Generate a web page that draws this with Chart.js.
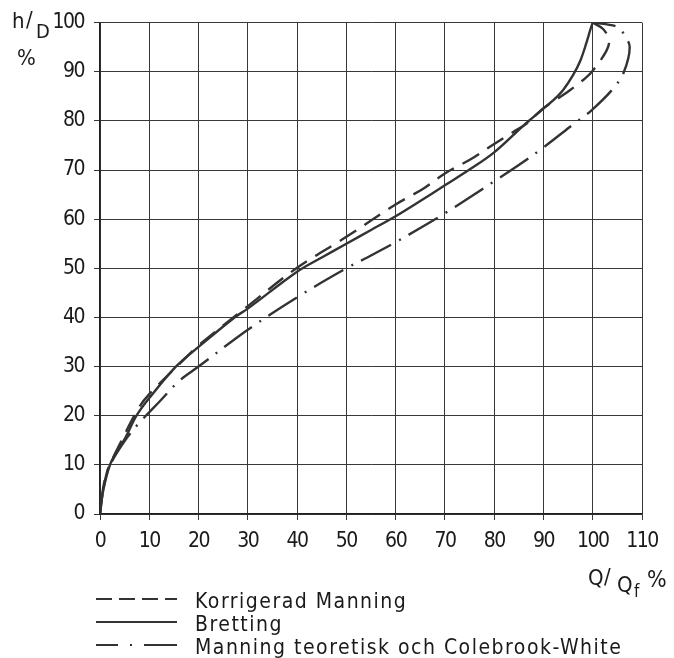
<!DOCTYPE html>
<html>
<head>
<meta charset="utf-8">
<script src="https://cdn.jsdelivr.net/npm/chart.js@4.4.1/dist/chart.umd.min.js"></script>
<style>
  html, body { margin: 0; padding: 0; background: #fff; }
  #wrap { width: 674px; height: 658px; }
</style>
</head>
<body>
<div id="wrap"><canvas id="chart" width="674" height="658"></canvas></div>
<script>
var font = "'DejaVu Sans Condensed', 'DejaVu Sans', sans-serif";
var ink = '#1a1a1a';
var lineInk = '#333';

var xTicks = [0, 10, 20, 30, 40, 50, 60, 70, 80, 90, 100, 110];
var yTicks = [0, 10, 20, 30, 40, 50, 60, 70, 80, 90, 100];

var labels = ['Korrigerad Manning', 'Bretting', 'Manning teoretisk och Colebrook-White'];

// Korrigerad Manning (dashed)
var korrQ = [0, 0.5, 1.4, 2.2, 4.1, 7.8, 10, 16.6, 20, 30, 40, 50, 60, 65.6, 70, 75.4, 80, 83.8, 86.5, 90, 93.3, 95.3, 98.4, 100, 102.8, 103.3, 102.1, 100];
var korrH = [0, 4, 8.5, 10.5, 14.4, 21.5, 24.4, 31, 34.3, 42.3, 50.1, 56.4, 63, 66.2, 69.3, 72.3, 75.3, 77.7, 79.4, 82.6, 84.8, 86.2, 88.6, 90.2, 94.3, 96.5, 98.7, 100];

// Bretting (solid)
var brettQ = [0, 0.7, 2.1, 3.6, 5.2, 7.4, 10, 15.4, 20, 27.3, 30, 40, 45, 50, 55, 60, 65, 70, 75, 80, 86, 88, 90, 92, 94, 96, 97.5, 98.7, 99.5, 100];
var brettH = [0, 5, 10.2, 13, 15.6, 20, 23.6, 30, 34, 40, 41.8, 49.3, 52.2, 55, 57.8, 60.6, 63.7, 66.9, 70.1, 73.6, 79.1, 80.8, 82.5, 84.2, 86.3, 89.3, 92.3, 95.8, 98.5, 100];

// Manning teoretisk och Colebrook-White (dash-dot)
var manQ = [0, 0.3, 1, 2.2, 5.1, 7.8, 9.3, 12, 16.2, 20, 30, 40, 50, 55, 60, 65, 70, 75, 80, 85, 90, 96.3, 99.7, 104.1, 106.3, 107.5, 106.3, 104.8, 100];
var manH = [0, 3, 7, 10.3, 15, 18.4, 20, 22.8, 27.2, 30, 37.5, 44.1, 50, 52.6, 55.3, 58.2, 61.2, 64.4, 67.7, 71, 74.6, 79.5, 82.1, 86.5, 89.9, 95, 97.7, 99.2, 100];

function points(qs, hs) {
    return qs.map(function (q, i) { return { x: q, y: hs[i] }; });
}

var dashes = [[19, 10], [], [34, 9, 2, 9]];
var legendDashes = [[16, 7], [], [22, 12, 2, 12, 40]];

var datasets = [
    { label: labels[0], data: points(korrQ, korrH) },
    { label: labels[1], data: points(brettQ, brettH) },
    { label: labels[2], data: points(manQ, manH) }
].map(function (d, i) {
    d.showLine = true;
    d.borderColor = lineInk;
    d.borderWidth = 2.4;
    d.borderDash = dashes[i];
    d.pointRadius = 0;
    d.tension = 0.35;
    d.fill = false;
    return d;
});

// narrow the tick digits a little
var narrowTicks = {
    id: 'narrowTicks',
    beforeDraw: function (chart) { chart.ctx.letterSpacing = '-1.5px'; }
};

// axis captions and the legend are drawn by hand
var extras = {
    id: 'extras',
    afterDraw: function (chart) {
        var ctx = chart.ctx;
        ctx.save();
        ctx.letterSpacing = '0px';
        ctx.fillStyle = ink;
        ctx.textBaseline = 'alphabetic';
        ctx.textAlign = 'left';

        ctx.font = '22px ' + font;
        ctx.fillText('h', 12, 28);
        ctx.fillText('/', 26, 27);
        ctx.font = '20px ' + font;
        ctx.fillText('D', 36, 38);
        ctx.font = '22px ' + font;
        ctx.fillText('%', 17, 65);

        ctx.fillText('Q', 588, 585);
        ctx.fillText('/', 604, 584);
        ctx.fillText('Q', 617, 592);
        ctx.font = '17px ' + font;
        ctx.fillText('f', 634, 597);
        ctx.font = '23px ' + font;
        ctx.fillText('%', 647, 587);

        var rows = [601, 624, 647];
        ctx.font = '21px ' + font;
        ctx.letterSpacing = '1.5px';
        chart.data.datasets.forEach(function (ds, i) {
            ctx.strokeStyle = lineInk;
            ctx.lineWidth = 1.8;
            ctx.setLineDash(legendDashes[i]);
            ctx.beginPath();
            ctx.moveTo(96, rows[i] - 2);
            ctx.lineTo(177, rows[i] - 2);
            ctx.stroke();
            ctx.setLineDash([]);
            ctx.fillText(ds.label, 195, rows[i] + 7);
        });
        ctx.restore();
    }
};

new Chart(document.getElementById('chart').getContext('2d'), {
    type: 'scatter',
    data: { datasets: datasets },
    options: {
        responsive: false,
        animation: false,
        layout: { padding: { top: 22, right: 32, left: 0, bottom: 0 } },
        plugins: { legend: { display: false }, tooltip: { enabled: false } },
        scales: {
            x: {
                type: 'linear',
                min: 0,
                max: 110,
                afterBuildTicks: function (s) { s.ticks = xTicks.map(function (v) { return { value: v }; }); },
                afterFit: function (s) { s.height = 144; },
                grid: { color: '#383838', lineWidth: 1, tickLength: 6 },
                border: { color: '#222', width: 1.5 },
                ticks: { color: ink, padding: 9, maxRotation: 0, font: { size: 21, family: font } }
            },
            y: {
                type: 'linear',
                min: 0,
                max: 100,
                afterBuildTicks: function (s) { s.ticks = yTicks.map(function (v) { return { value: v }; }); },
                afterFit: function (s) { s.width = 100; },
                grid: { color: '#383838', lineWidth: 1, tickLength: 6 },
                border: { color: '#222', width: 1.5 },
                ticks: { color: ink, padding: 10, font: { size: 21, family: font } }
            }
        }
    },
    plugins: [narrowTicks, extras]
});
</script>
</body>
</html>
